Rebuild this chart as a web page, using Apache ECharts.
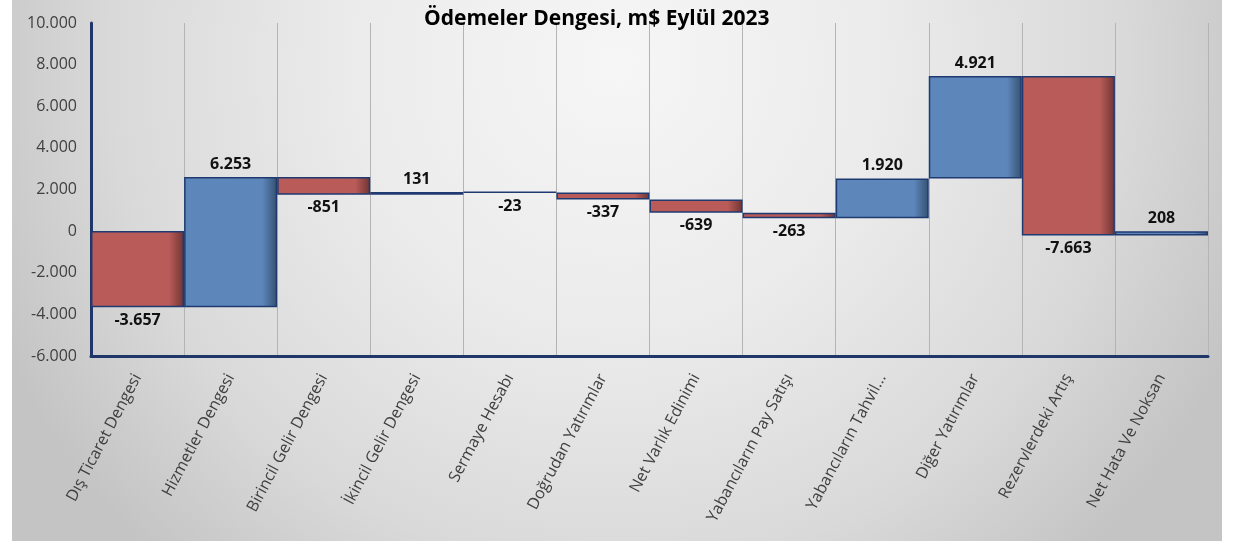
<!DOCTYPE html>
<html>
<head>
<meta charset="utf-8">
<script src="https://cdn.jsdelivr.net/npm/echarts@6/dist/echarts.min.js"></script>
<style>
html,body{margin:0;padding:0;background:#fff;}
#chart{width:1245px;height:545px;}
</style>
</head>
<body>
<div id="chart"></div>
<script>
// kategoriler ve degerler (milyon $)
var categories = ['Dış Ticaret Dengesi', 'Hizmetler Dengesi', 'Birincil Gelir Dengesi', 'İkincil Gelir Dengesi',
	'Sermaye Hesabı', 'Doğrudan Yatırımlar', 'Net Varlık Edinimi', 'Yabancıların Pay Satışı',
	'Yabancıların Tahvil...', 'Diğer Yatırımlar', 'Rezervlerdeki Artış', 'Net Hata Ve Noksan'];
var values = [-3657, 6253, -851, 131, -23, -337, -639, -263, 1920, 4921, -7663, 208];
var yTicks = [-6000, -4000, -2000, 0, 2000, 4000, 6000, 8000, 10000];

function fmt(v){
	var s = String(Math.abs(v)).replace(/\B(?=(\d{3})+(?!\d))/g, '.');
	return (v < 0 ? '-' : '') + s;
}

function grad(main, dark){
	return new echarts.graphic.LinearGradient(0, 0, 1, 0, [
		{offset:0, color:main},
		{offset:0.84, color:main},
		{offset:1, color:dark}
	]);
}
var redFill = grad('#b95b58', '#6e3434');
var blueFill = grad('#5d87bb', '#34506f');

// selale: taban + gorunen parca
var baseData = [], barData = [], run = 0;
for(var i=0;i<values.length;i++){
	var prev = run, cur = run + values[i];
	run = cur;
	baseData.push(Math.min(prev, cur));
	barData.push({
		value: Math.abs(values[i]),
		raw: values[i],
		itemStyle: {color: values[i] < 0 ? redFill : blueFill},
		label: {position: values[i] < 0 ? 'bottom' : 'top'}
	});
}

var eChart = echarts.init(document.getElementById('chart'));
var option = {
	animation: false,
	graphic: [{
		type: 'rect',
		z: -10,
		shape: {x: 12, y: 0, width: 1210, height: 541},
		style: {
			fill: new echarts.graphic.RadialGradient(0.5, 0.12, 1.25, [
				{offset:0, color:'#f6f6f6'},
				{offset:0.4, color:'#ebebeb'},
				{offset:0.75, color:'#d9d9d9'},
				{offset:1, color:'#c4c4c4'}
			])
		}
	}],
	title: {
		text: 'Ödemeler Dengesi, m$ Eylül 2023',
		left: 419,
		top: 4,
		textStyle: {fontFamily:'Open Sans', fontWeight:'bold', fontSize:21, color:'#000'}
	},
	grid: {left: 91, right: 37, top: 23, bottom: 189},
	xAxis: {
		type: 'category',
		data: categories,
		axisLine: {onZero:false, lineStyle:{color:'#1f3768', width:3}},
		axisTick: {show:false},
		splitLine: {show:true, lineStyle:{color:'#b4b4b4', width:1}},
		axisLabel: {interval:0, rotate:62, margin:19, fontFamily:'Open Sans', fontSize:16, color:'#404040'}
	},
	yAxis: {
		type: 'value',
		min: yTicks[0],
		max: yTicks[yTicks.length-1],
		interval: 2000,
		axisLine: {show:true, lineStyle:{color:'#1f3768', width:3}},
		axisTick: {show:false},
		splitLine: {show:false},
		axisLabel: {margin:14, fontFamily:'Open Sans', fontSize:16, color:'#404040', formatter: fmt}
	},
	series: [{
		type: 'bar',
		stack: 'wf',
		stackStrategy: 'all',
		barCategoryGap: '0%',
		silent: true,
		itemStyle: {color:'transparent'},
		data: baseData
	},{
		type: 'bar',
		stack: 'wf',
		stackStrategy: 'all',
		barCategoryGap: '0%',
		itemStyle: {borderColor:'#1f3a70', borderWidth:1.5},
		label: {
			show: true,
			distance: 5,
			fontFamily: 'Open Sans',
			fontWeight: 'bold',
			fontSize: 16,
			color: '#111',
			formatter: function(p){ return fmt(p.data.raw); }
		},
		data: barData
	}]
};
eChart.setOption(option);
</script>
</body>
</html>
